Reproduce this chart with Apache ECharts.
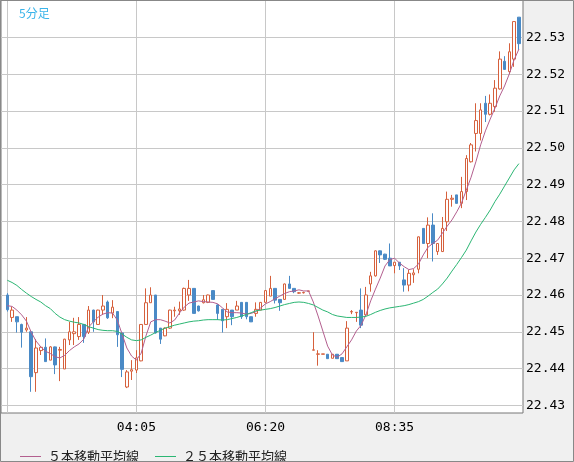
<!DOCTYPE html>
<html><head><meta charset="utf-8">
<script src="https://cdn.jsdelivr.net/npm/echarts@6/dist/echarts.min.js"></script>
<style>html,body{margin:0;padding:0;background:#f0f0f0;}#c{width:574px;height:462px;}</style>
</head><body><div id="c"></div>
<script>
const categories = [
 '01:50','01:55','02:00','02:05','02:10','02:15','02:20','02:25','02:30','02:35','02:40','02:45','02:50','02:55',
 '03:00','03:05','03:10','03:15','03:20','03:25','03:30','03:35','03:40','03:45','03:50','03:55',
 '04:00','04:05','04:10','04:15','04:20','04:25','04:30','04:35','04:40','04:45','04:50','04:55',
 '05:00','05:05','05:10','05:15','05:20','05:25','05:30','05:35','05:40','05:45','05:50','05:55',
 '06:00','06:05','06:10','06:15','06:20','06:25','06:30','06:35','06:40','06:45','06:50','06:55',
 '07:00','07:05','07:10','07:15','07:20','07:25','07:30','07:35','07:40','07:45','07:50','07:55',
 '08:00','08:05','08:10','08:15','08:20','08:25','08:30','08:35','08:40','08:45','08:50','08:55',
 '09:00','09:05','09:10','09:15','09:20','09:25','09:30','09:35','09:40','09:45','09:50','09:55',
 '10:00','10:05','10:10','10:15','10:20','10:25','10:30','10:35','10:40','10:45'
];
const tickLabels = ['04:05', '06:20', '08:35'];
const openVals = [
 22.4600,22.4539,22.4541,22.4520,22.4505,22.4500,22.4389,22.4449,22.4458,22.4423,
 22.4459,22.4450,22.4399,22.4478,22.4495,22.4487,22.4520,22.4499,22.4559,22.4520,
 22.4559,22.4581,22.4551,22.4555,22.4497,22.4350,22.4393,22.4396,22.4421,22.4520,
 22.4579,22.4600,22.4510,22.4489,22.4510,22.4557,22.4557,22.4559,22.4600,22.4618,
 22.4570,22.4579,22.4580,22.4612,22.4573,22.4561,22.4541,22.4559,22.4559,22.4580,
 22.4580,22.4541,22.4550,22.4559,22.4580,22.4597,22.4618,22.4588,22.4588,22.4630,
 22.4618,22.4605,22.4606,22.4610,22.4450,22.4439,22.4439,22.4439,22.4428,22.4439,
 22.4430,22.4421,22.4554,22.4552,22.4559,22.4546,22.4630,22.4652,22.4720,22.4711,
 22.4700,22.4680,22.4689,22.4641,22.4627,22.4655,22.4670,22.4781,22.4740,22.4790,
 22.4718,22.4718,22.4799,22.4860,22.4872,22.4849,22.4881,22.4962,22.5039,22.5039,
 22.5121,22.5091,22.5112,22.5160,22.5235,22.5207,22.5241,22.5355
];
const closeVals = [
 22.4560,22.4559,22.4527,22.4499,22.4510,22.4378,22.4456,22.4458,22.4419,22.4459,
 22.4410,22.4452,22.4480,22.4500,22.4500,22.4520,22.4487,22.4559,22.4527,22.4559,
 22.4570,22.4538,22.4567,22.4492,22.4398,22.4391,22.4397,22.4429,22.4520,22.4579,
 22.4600,22.4497,22.4480,22.4510,22.4559,22.4559,22.4562,22.4618,22.4618,22.4550,
 22.4557,22.4587,22.4600,22.4588,22.4550,22.4530,22.4561,22.4541,22.4570,22.4541,
 22.4541,22.4527,22.4561,22.4580,22.4612,22.4618,22.4586,22.4579,22.4630,22.4618,
 22.4609,22.4606,22.4607,22.4611,22.4451,22.4440,22.4440,22.4427,22.4439,22.4427,
 22.4419,22.4510,22.4555,22.4553,22.4518,22.4600,22.4652,22.4720,22.4709,22.4697,
 22.4679,22.4689,22.4679,22.4627,22.4659,22.4660,22.4758,22.4740,22.4790,22.4740,
 22.4740,22.4781,22.4860,22.4863,22.4849,22.4881,22.4971,22.5008,22.5074,22.5103,
 22.5091,22.5121,22.5162,22.5241,22.5213,22.5261,22.5343,22.5283
];
const lowVals = [
 22.4555,22.4527,22.4498,22.4457,22.4500,22.4337,22.4337,22.4437,22.4419,22.4423,
 22.4385,22.4366,22.4399,22.4464,22.4464,22.4478,22.4470,22.4494,22.4500,22.4520,
 22.4546,22.4535,22.4537,22.4459,22.4377,22.4347,22.4369,22.4388,22.4420,22.4520,
 22.4579,22.4495,22.4467,22.4488,22.4508,22.4541,22.4546,22.4557,22.4584,22.4550,
 22.4555,22.4577,22.4578,22.4588,22.4532,22.4498,22.4510,22.4518,22.4559,22.4535,
 22.4534,22.4527,22.4541,22.4559,22.4580,22.4597,22.4577,22.4557,22.4588,22.4618,
 22.4605,22.4603,22.4604,22.4610,22.4450,22.4408,22.4439,22.4427,22.4428,22.4427,
 22.4419,22.4421,22.4548,22.4527,22.4510,22.4543,22.4609,22.4650,22.4687,22.4695,
 22.4679,22.4659,22.4668,22.4609,22.4610,22.4633,22.4659,22.4740,22.4700,22.4691,
 22.4709,22.4717,22.4774,22.4840,22.4849,22.4836,22.4858,22.4960,22.4990,22.5020,
 22.5070,22.5088,22.5098,22.5158,22.5213,22.5200,22.5220,22.5266
];
const highVals = [
 22.4605,22.4568,22.4541,22.4522,22.4540,22.4500,22.4480,22.4461,22.4482,22.4461,
 22.4460,22.4459,22.4481,22.4527,22.4538,22.4540,22.4520,22.4570,22.4560,22.4560,
 22.4600,22.4585,22.4586,22.4555,22.4500,22.4396,22.4423,22.4450,22.4521,22.4618,
 22.4621,22.4600,22.4510,22.4512,22.4560,22.4568,22.4582,22.4620,22.4641,22.4618,
 22.4571,22.4600,22.4601,22.4612,22.4575,22.4561,22.4578,22.4559,22.4584,22.4580,
 22.4580,22.4541,22.4580,22.4581,22.4613,22.4652,22.4618,22.4588,22.4631,22.4652,
 22.4618,22.4608,22.4609,22.4611,22.4499,22.4450,22.4440,22.4439,22.4439,22.4439,
 22.4430,22.4529,22.4559,22.4553,22.4618,22.4622,22.4663,22.4721,22.4721,22.4712,
 22.4740,22.4689,22.4689,22.4673,22.4668,22.4670,22.4759,22.4781,22.4811,22.4822,
 22.4741,22.4812,22.4881,22.4872,22.4872,22.4921,22.4980,22.5013,22.5121,22.5121,
 22.5141,22.5145,22.5184,22.5262,22.5249,22.5284,22.5343,22.5355
];
const ma5 = [
 22.4571,22.4569,22.4559,22.4546,22.4529,22.4499,22.4475,22.4459,22.4447,22.4441,
 22.4432,22.4429,22.4436,22.4449,22.4459,22.4467,22.4480,22.4513,22.4527,22.4540,
 22.4548,22.4552,22.4551,22.4532,22.4494,22.4456,22.4434,22.4423,22.4442,22.4489,
 22.4527,22.4533,22.4533,22.4529,22.4524,22.4532,22.4551,22.4567,22.4578,22.4581,
 22.4584,22.4582,22.4581,22.4580,22.4576,22.4565,22.4554,22.4552,22.4552,22.4551,
 22.4548,22.4550,22.4555,22.4565,22.4576,22.4582,22.4590,22.4597,22.4604,22.4609,
 22.4611,22.4614,22.4611,22.4611,22.4581,22.4543,22.4502,22.4461,22.4437,22.4431,
 22.4440,22.4459,22.4478,22.4502,22.4518,22.4546,22.4584,22.4616,22.4646,22.4679,
 22.4696,22.4700,22.4687,22.4677,22.4669,22.4672,22.4684,22.4709,22.4730,22.4740,
 22.4749,22.4768,22.4787,22.4804,22.4826,22.4850,22.4885,22.4920,22.4962,22.5008,
 22.5046,22.5078,22.5108,22.5141,22.5168,22.5201,22.5239,22.5268
];
const ma25 = [
 22.4640,22.4634,22.4626,22.4615,22.4605,22.4596,22.4588,22.4581,22.4571,22.4563,
 22.4550,22.4540,22.4533,22.4529,22.4526,22.4524,22.4520,22.4514,22.4510,22.4506,
 22.4504,22.4503,22.4503,22.4501,22.4494,22.4485,22.4478,22.4476,22.4478,22.4485,
 22.4491,22.4498,22.4504,22.4510,22.4514,22.4518,22.4521,22.4524,22.4527,22.4529,
 22.4530,22.4532,22.4533,22.4533,22.4533,22.4532,22.4533,22.4536,22.4539,22.4543,
 22.4547,22.4552,22.4557,22.4559,22.4561,22.4563,22.4566,22.4570,22.4574,22.4577,
 22.4580,22.4581,22.4580,22.4577,22.4573,22.4566,22.4559,22.4554,22.4547,22.4543,
 22.4541,22.4539,22.4539,22.4539,22.4540,22.4542,22.4547,22.4553,22.4558,22.4562,
 22.4565,22.4567,22.4569,22.4571,22.4574,22.4578,22.4582,22.4588,22.4597,22.4607,
 22.4616,22.4630,22.4646,22.4665,22.4683,22.4702,22.4722,22.4747,22.4771,22.4792,
 22.4811,22.4831,22.4854,22.4874,22.4896,22.4918,22.4940,22.4957
];
const seriesNames = ['５本移動平均線', '２５本移動平均線'];
const titleText = '5分足';

const RED = '#d6603c', BLUE = '#4a8ac6', MA5C = '#b35f8f', MA25C = '#2bb673', GRIDC = '#c8c8c8';
const candleData = categories.map((_, i) => [openVals[i], closeVals[i], lowVals[i], highVals[i]]);

const chart = echarts.init(document.getElementById('c'));
chart.setOption({
  backgroundColor: '#f0f0f0',
  animation: false,
  title: { text: titleText, left: 14, top: 2,
    textStyle: { fontSize: 12, fontWeight: 'normal', color: '#3ab4ea', fontFamily: 'Noto Sans CJK JP' } },
  legend: { data: seriesNames, left: 15, top: 445, icon: 'rect', itemWidth: 21, itemHeight: 1, itemGap: 16,
    textStyle: { fontSize: 13, color: '#222', fontFamily: 'Noto Sans CJK JP', padding: [0, 0, 0, 2] } },
  graphic: [{ type: 'rect', silent: true, z: 100,
    shape: { x: 0.5, y: 0.5, width: 573, height: 461 }, style: { fill: null, stroke: '#888', lineWidth: 1 } }],
  grid: [
    { left: 1, top: 0, width: 522, height: 413, show: true, backgroundColor: '#fff', borderColor: '#777', borderWidth: 1 },
    { left: 1, top: 0.6, width: 522, height: 404.8 },
    { left: 7.3, top: 1, width: 511.6, height: 412 }
  ],
  xAxis: [
    { gridIndex: 0, type: 'value', show: false },
    { gridIndex: 1, type: 'value', show: false },
    { gridIndex: 2, type: 'category', data: categories, boundaryGap: false,
      axisLine: { show: false }, axisTick: { show: false },
      axisLabel: { interval: 0, hideOverlap: false, showMinLabel: true, showMaxLabel: true,
        formatter: (v) => tickLabels.indexOf(v) >= 0 ? v : '',
        margin: 8, fontSize: 13, color: '#000', fontFamily: 'DejaVu Sans Mono' },
      splitLine: { show: true, interval: (i) => i % 27 === 0, lineStyle: { color: GRIDC, width: 1 } } }
  ],
  yAxis: [
    { gridIndex: 0, type: 'value', show: false },
    { gridIndex: 1, type: 'value', min: 22.43, max: 22.54, interval: 0.01, position: 'right',
      axisLine: { show: false }, axisTick: { show: false },
      splitLine: { show: true, lineStyle: { color: GRIDC, width: 1 } },
      axisLabel: { showMaxLabel: false, margin: 3, formatter: v => v.toFixed(2),
        fontSize: 13, color: '#000', fontFamily: 'DejaVu Sans Mono' } },
    { gridIndex: 2, type: 'value', min: 22.427935, max: 22.539891, show: false }
  ],
  series: [
    { type: 'candlestick', xAxisIndex: 2, yAxisIndex: 2, data: candleData, barWidth: 3, clip: false,
      itemStyle: { color: '#fff', color0: BLUE, borderColor: RED, borderColor0: BLUE, borderColorDoji: RED, borderWidth: 1 } },
    { type: 'line', name: seriesNames[0], xAxisIndex: 2, yAxisIndex: 2, data: ma5, symbol: 'none',
      lineStyle: { width: 1, color: MA5C }, itemStyle: { color: MA5C } },
    { type: 'line', name: seriesNames[1], xAxisIndex: 2, yAxisIndex: 2, data: ma25, symbol: 'none',
      lineStyle: { width: 1, color: MA25C }, itemStyle: { color: MA25C } }
  ]
});
</script></body></html>
